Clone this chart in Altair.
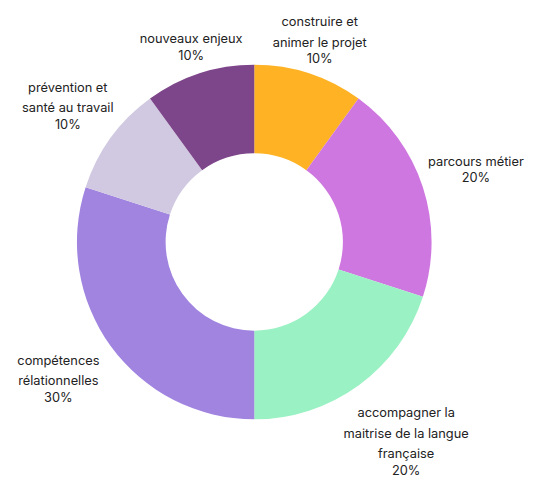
import altair as alt
import pandas as pd

labels = [
    "construire et\nanimer le projet",
    "parcours métier",
    "accompagner la\nmaitrise de la langue\nfrançaise",
    "compétences\nrélationnelles",
    "prévention et\nsanté au travail",
    "nouveaux enjeux",
]
values = [10, 20, 20, 30, 10, 10]
colors = ["#FFB223", "#CF77E0", "#9AF1C3", "#A084E0", "#D0C9E1", "#7E468A"]

df = pd.DataFrame({
    "label": labels,
    "value": values,
    "idx": list(range(len(labels))),
    "k": [len(l.split("\n")) for l in labels],
    "maxch": [max(len(s) for s in (l.split("\n") + [f"{v}%"])) for l, v in zip(labels, values)],
})

W, H = 500, 468
CX, CY = W / 2, H / 2
OUTER = 180
INNER = 90
LH = 21      # spacing between name lines
PG = 17      # gap from last name line to percentage

base = alt.Chart(df)

arcs = base.mark_arc(outerRadius=OUTER, innerRadius=INNER, stroke=None).encode(
    theta=alt.Theta("value:Q", stack=True),
    color=alt.Color("label:N", scale=alt.Scale(domain=labels, range=colors), legend=None),
    order=alt.Order("idx:Q"),
)

pos = base.transform_window(
    cum="sum(value)", sort=[alt.SortField("idx")], frame=[None, 0]
).transform_joinaggregate(
    total="sum(value)"
).transform_calculate(
    ang="(datum.cum - datum.value/2) / datum.total * 2 * PI",
    pct="datum.value + '%'",
    hw="datum.maxch * 3.8",
    hh="(datum.k + 1) * 9.5",
    span=f"(datum.k - 1) * {LH} + {PG}",
).transform_calculate(
    R=f"{OUTER} + 2 + sqrt(pow(datum.hw*sin(datum.ang),2) + pow(datum.hh*cos(datum.ang),2)) + max(0, -cos(datum.ang))*16",
).transform_calculate(
    px=f"{CX} + datum.R * sin(datum.ang) + sin(datum.ang) * max(0, -cos(datum.ang)) * 14",
    cy0=f"{CY} - datum.R * cos(datum.ang)",
).transform_calculate(
    ny="datum.cy0 - datum.span / 2",
    py="datum.cy0 + datum.span / 2",
)

txt_style = dict(font="Inter", fontSize=13, color="#222222", align="center", baseline="middle")

names = pos.mark_text(lineBreak="\n", lineHeight=LH, **txt_style).encode(
    x=alt.X("px:Q", scale=None, axis=None),
    y=alt.Y("ny:Q", scale=None, axis=None),
    text="label:N",
)
pcts = pos.mark_text(**txt_style).encode(
    x=alt.X("px:Q", scale=None, axis=None),
    y=alt.Y("py:Q", scale=None, axis=None),
    text="pct:N",
)

chart = alt.layer(arcs, names, pcts).properties(
    width=W, height=H,
    autosize=alt.AutoSizeParams(type="none"),
    padding={"left": 0, "top": 0, "right": 35, "bottom": 1},
).configure_view(stroke=None)

chart.save("out.html", embed_options={"renderer": "svg", "actions": False})
